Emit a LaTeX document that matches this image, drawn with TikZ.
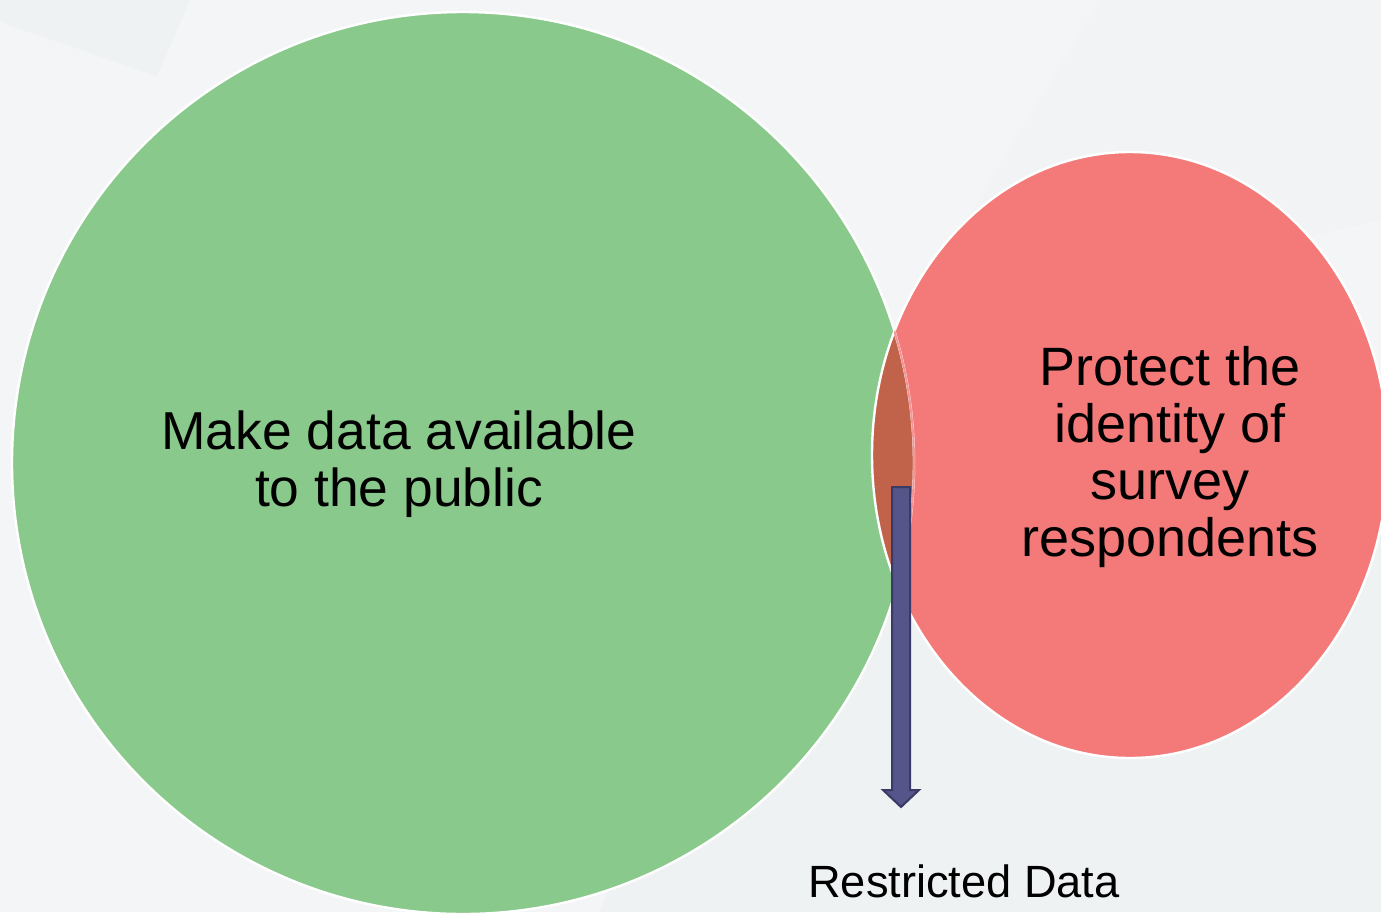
\documentclass[tikz,border=0pt]{standalone}
\usepackage{fontspec}
\setmainfont{Liberation Sans}
\definecolor{bg}{HTML}{F4F5F7}
\definecolor{bgb}{HTML}{EFF2F3}
\definecolor{greenc}{HTML}{8AC98C}
\definecolor{redc}{HTML}{F47A7A}
\definecolor{overlap}{HTML}{C1634A}
\definecolor{arrowfill}{HTML}{555589}
\definecolor{arrowline}{HTML}{3A3A66}
\tikzset{
  lbl/.style={align=center, text=black, font=\fontsize{26.7}{28.5}\selectfont},
  lblr/.style={align=center, text=black, font=\fontsize{27}{28.5}\selectfont},
  small/.style={text=black, font=\fontsize{22.6}{26}\selectfont},
}
\begin{document}
\begin{tikzpicture}[x=0.5pt,y=-0.5pt]
\useasboundingbox (0,0) rectangle (1381,912);
\fill[bg] (0,0) rectangle (1381,912);
\fill[bgb] (0,0) -- (190,0) -- (157,76) -- (0,22) -- cycle;
\fill[bgb!60!bg] (1100,0) -- (1381,0) -- (1381,220) -- (900,330) -- cycle;
\fill[bgb] (600,912) -- (700,650) -- (1381,500) -- (1381,912) -- cycle;
% shapes
\coordinate (gc) at (463,463);
\coordinate (rc) at (1130,455);
\fill[greenc] (gc) circle[radius=451];
\fill[redc] (rc) ellipse[x radius=258, y radius=303];
\begin{scope}
  \clip (gc) circle[radius=451];
  \fill[overlap] (rc) ellipse[x radius=258, y radius=303];
\end{scope}
\draw[white, line width=1.2pt] (gc) circle[radius=451];
\draw[white, line width=1.2pt] (rc) ellipse[x radius=258, y radius=303];
\begin{scope}
  \clip (rc) ellipse[x radius=258, y radius=303];
  \draw[redc!80!white, line width=1pt] (gc) circle[radius=451];
\end{scope}
% labels
\node[lbl] (g) at (399,464) {Make data available\\to the public};
\node[lblr] (r) at (1170,457) {Protect the\\identity of\\survey\\respondents};
\node[small] (rd) at (964,881) {Restricted Data};
% arrow
\draw[arrowline, fill=arrowfill, line width=1pt, line join=miter]
  (892,487) -- (910,487) -- (910,790) -- (919,790) -- (901,807) -- (883,790) -- (892,790) -- cycle;
\end{tikzpicture}
\end{document}
